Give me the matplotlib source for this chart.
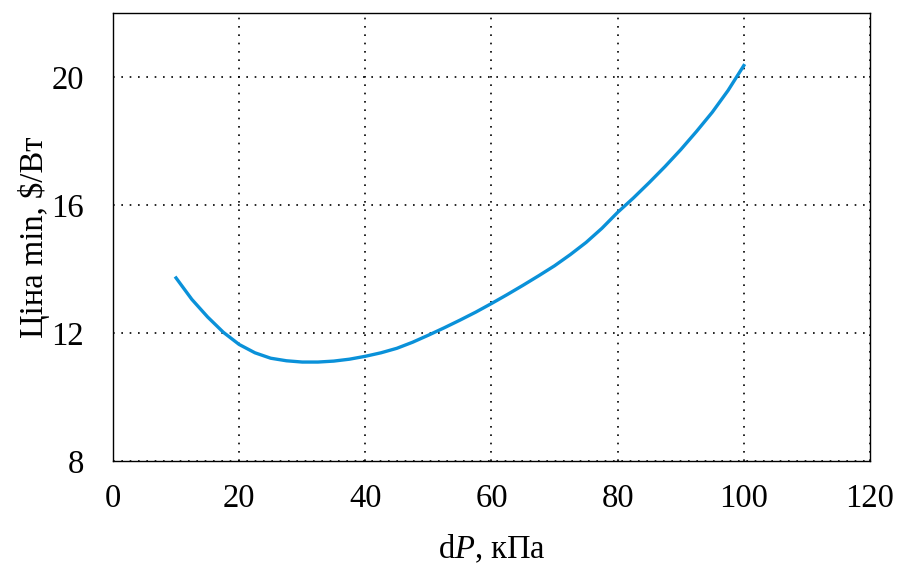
import matplotlib
matplotlib.use('Agg')
import matplotlib.pyplot as plt

# pressure drop (kPa) and minimum price ($/W)
dP = [10, 12.5, 15, 17.5, 20, 22.5, 25, 27.5, 30, 32.5, 35, 37.5, 40, 42.5,
      45, 47.5, 50, 52.5, 55, 57.5, 60, 62.5, 65, 67.5, 70, 72.5, 75, 77.5,
      80, 82.5, 85, 87.5, 90, 92.5, 95, 97.5, 100]
price = [13.72, 13.05, 12.50, 12.02, 11.64, 11.38, 11.21, 11.13, 11.09, 11.09,
         11.12, 11.18, 11.27, 11.38, 11.52, 11.71, 11.93, 12.16, 12.40, 12.65,
         12.92, 13.20, 13.49, 13.79, 14.10, 14.45, 14.83, 15.27, 15.77, 16.22,
         16.70, 17.20, 17.73, 18.30, 18.90, 19.58, 20.36]

xticks = [0, 20, 40, 60, 80, 100, 120]
yticks = [8, 12, 16, 20]

plt.rcParams['font.family'] = ['Liberation Serif', 'DejaVu Serif']
plt.rcParams['mathtext.fontset'] = 'custom'
plt.rcParams['mathtext.rm'] = 'Liberation Serif'
plt.rcParams['mathtext.it'] = 'Liberation Serif:italic'

fig = plt.figure(figsize=(8.98, 5.69), dpi=100)
ax = fig.add_axes([0.1258, 0.19, 0.843, 0.787])

ax.plot(dP, price, color='#0a91d9', linewidth=2.4)

ax.set_xlim(0, 120)
ax.set_ylim(8, 22)
ax.set_xticks(xticks)
ax.set_yticks(yticks)
ax.tick_params(length=0, labelsize=23.5)
ax.tick_params(axis='x', pad=16)
ax.tick_params(axis='y', pad=21)
ax.grid(True, color='black', linestyle=(0, (1, 4)), linewidth=1.2)
for s in ax.spines.values():
    s.set_linewidth(1.0)

ax.set_xlabel('d$P$, кПа', fontsize=23.5, labelpad=14)
ax.set_ylabel('Ціна min, $/Вт', fontsize=23.5, labelpad=1)

fig.savefig('out.png', dpi=100)
